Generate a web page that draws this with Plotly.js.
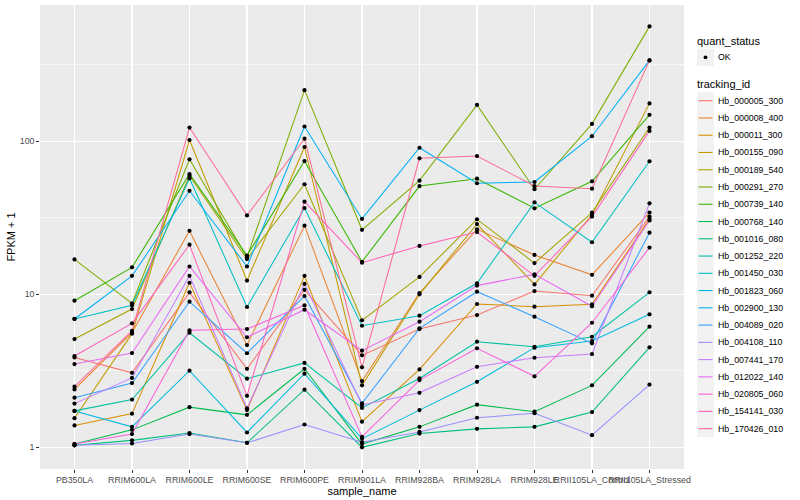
<!DOCTYPE html>
<html><head><meta charset="utf-8">
<script src="https://cdn.plot.ly/plotly-3.0.1.min.js"></script>
<style>html,body{margin:0;padding:0;background:#fff}#chart{width:800px;height:500px}</style>
</head><body><div id="chart"></div>
<script>
// ---- data (FPKM + 1) ----
const samples = ["PB350LA","RRIM600LA","RRIM600LE","RRIM600SE","RRIM600PE","RRIM901LA","RRIM928BA","RRIM928LA","RRIM928LE","RRII105LA_Control","RRII105LA_Stressed"];
const trackingIds = ["Hb_000005_300","Hb_000008_400","Hb_000011_300","Hb_000155_090","Hb_000189_540","Hb_000291_270","Hb_000739_140","Hb_000768_140","Hb_001016_080","Hb_001252_220","Hb_001450_030","Hb_001823_060","Hb_002900_130","Hb_004089_020","Hb_004108_110","Hb_007441_170","Hb_012022_140","Hb_020805_060","Hb_154141_030","Hb_170426_010"];
const trackColors = ["#F8766D","#EA8331","#D89000","#C09B00","#A3A500","#7CAE00","#39B600","#00BB4E","#00BF7D","#00C1A3","#00BFC4","#00BAE0","#00B0F6","#35A2FF","#9590FF","#C77CFF","#E76BF3","#FA62DB","#FF62BC","#FF6C91"];
const quantStatus = ["OK"];

const hb_000005_300 = [3.87, 3.07, 10.3, 3.26, 10.7, 3.99, 5.93, 7.32, 10.5, 9.79, 32.2];
const hb_000008_400 = [2.39, 5.61, 26.0, 4.66, 28.1, 2.71, 10.2, 26.6, 18.1, 13.4, 34.2];
const hb_000011_300 = [1.39, 1.66, 11.9, 1.75, 13.2, 1.47, 3.23, 8.64, 8.30, 8.60, 31.1];
const hb_000155_090 = [1.55, 5.53, 102, 12.3, 91.8, 2.54, 10.0, 28.8, 11.6, 33.1, 177];
const hb_000189_540 = [5.10, 8.01, 59.6, 17.0, 52.4, 6.76, 13.0, 30.9, 16.0, 34.2, 123];
const hb_000291_270 = [16.9, 8.73, 76.3, 17.5, 216, 26.4, 55.3, 173, 48.6, 130, 564];
const hb_000739_140 = [9.08, 15.0, 61.1, 17.9, 74.3, 16.3, 51.0, 57.0, 36.5, 54.8, 149];
const hb_000768_140 = [1.05, 1.30, 1.83, 1.63, 3.26, 1.05, 1.36, 1.90, 1.71, 2.54, 6.14];
const hb_001016_080 = [1.03, 1.11, 1.24, 1.07, 2.38, 1.00, 1.23, 1.32, 1.36, 1.70, 4.50];
const hb_001252_220 = [1.73, 2.05, 5.61, 2.81, 3.56, 1.81, 2.82, 4.90, 4.54, 5.28, 10.3];
const hb_001450_030 = [6.90, 8.48, 57.3, 8.26, 36.6, 6.23, 7.25, 11.8, 39.9, 21.9, 74.0];
const hb_001823_060 = [1.73, 1.36, 3.17, 1.25, 3.03, 1.14, 1.75, 2.68, 4.48, 4.95, 7.40];
const hb_002900_130 = [6.90, 13.2, 47.5, 15.2, 125, 31.1, 90.8, 53.2, 54.2, 108, 338];
const hb_004089_020 = [2.11, 2.63, 8.95, 4.12, 9.75, 1.94, 5.99, 10.4, 7.14, 4.78, 25.3];
const hb_004108_110 = [1.03, 1.06, 1.22, 1.07, 1.41, 1.08, 1.26, 1.56, 1.67, 1.20, 2.57];
const hb_007441_170 = [1.93, 2.84, 13.2, 1.80, 11.7, 1.89, 2.27, 3.36, 3.85, 4.07, 39.3];
const hb_012022_140 = [3.50, 4.13, 15.2, 5.24, 7.93, 4.28, 6.62, 11.4, 13.5, 8.35, 30.4];
const hb_020805_060 = [1.05, 1.22, 5.82, 5.93, 8.48, 1.17, 2.75, 4.44, 2.91, 6.52, 20.2];
const hb_154141_030 = [3.95, 6.46, 21.1, 2.17, 40.3, 16.1, 20.7, 25.5, 13.2, 32.2, 117];
const hb_170426_010 = [2.49, 5.76, 123, 32.8, 104, 3.33, 77.4, 80.1, 51.0, 49.0, 338];

const yTickVals = [1, 10, 100];
const yTickText = ["1", "10", "100"];
const yMinorVals = [3.1623, 31.623, 316.23];

const seriesValues = [hb_000005_300, hb_000008_400, hb_000011_300, hb_000155_090, hb_000189_540, hb_000291_270, hb_000739_140, hb_000768_140, hb_001016_080, hb_001252_220, hb_001450_030, hb_001823_060, hb_002900_130, hb_004089_020, hb_004108_110, hb_007441_170, hb_012022_140, hb_020805_060, hb_154141_030, hb_170426_010];

// ---- traces ----
const FONT = "Liberation Sans, Arial, Helvetica, sans-serif";
const traces = seriesValues.map((vals, i) => ({
  type: "scatter", mode: "lines", x: samples, y: vals, name: trackingIds[i],
  line: {color: trackColors[i], width: 1.05}, showlegend: false, hoverinfo: "x+y+name"
}));
const px = [], py = [];
seriesValues.forEach(vals => { vals.forEach((v, j) => { px.push(samples[j]); py.push(v); }); });
traces.push({type: "scatter", mode: "markers", x: px, y: py, name: quantStatus[0],
  marker: {color: "#000", size: 4.2}, showlegend: false, hoverinfo: "x+y"});

// ---- manual ggplot-style legend (positions in page pixels) ----
const L = 40, T = 5, W = 644, H = 464;
const toPX = p => (p - L) / W, toPY = p => (T + H - p) / H;
const shapes = [], annotations = [];
function keyBox(cy) {
  shapes.push({type: "rect", xref: "paper", yref: "paper", x0: toPX(697), x1: toPX(714),
    y0: toPY(cy - 8.6), y1: toPY(cy + 8.6), fillcolor: "#F2F2F2", line: {width: 0}, layer: "below"});
}
function label(text, x, y, size) {
  annotations.push({xref: "paper", yref: "paper", x: toPX(x), y: toPY(y), text: text, showarrow: false,
    xanchor: "left", yanchor: "middle", font: {family: FONT, size: size, color: "#000"}});
}
label("quant_status", 695, 41, 11);
keyBox(57.3);
shapes.push({type: "circle", xref: "paper", yref: "paper", x0: toPX(703.6), x1: toPX(707.4),
  y0: toPY(59.2), y1: toPY(55.4), fillcolor: "#000", line: {width: 0}});
label(quantStatus[0], 715.5, 57.3, 8.8);
label("tracking_id", 695, 84.3, 11);
trackingIds.forEach((id, i) => {
  const cy = 100.7 + i * 17.26;
  keyBox(cy);
  shapes.push({type: "line", xref: "paper", yref: "paper", x0: toPX(698.5), x1: toPX(712.5),
    y0: toPY(cy), y1: toPY(cy), line: {color: trackColors[i], width: 1.1}});
  label(id, 715.5, cy, 8.8);
});

const layout = {
  width: 800, height: 500,
  margin: {l: L, r: 800 - L - W, t: T, b: 500 - T - H, pad: 0},
  paper_bgcolor: "#fff", plot_bgcolor: "#EBEBEB",
  font: {family: FONT, size: 8.8, color: "#4D4D4D"},
  showlegend: false,
  xaxis: {type: "category", range: [-0.6, 10.6], tickangle: 0, automargin: false,
    showgrid: true, gridcolor: "#FFFFFF", gridwidth: 1.07, zeroline: false, showline: false,
    ticks: "outside", ticklen: 2.75, tickwidth: 1, tickcolor: "#333333",
    tickfont: {family: FONT, size: 8.8, color: "#4D4D4D"},
    title: {text: "sample_name", font: {family: FONT, size: 11, color: "#000"}, standoff: 0}},
  yaxis: {type: "log", range: [-0.1418, 2.891], automargin: false,
    tickmode: "array", tickvals: yTickVals, ticktext: yTickText,
    showgrid: true, gridcolor: "#FFFFFF", gridwidth: 1.07, zeroline: false, showline: false,
    ticks: "outside", ticklen: 2.75, tickwidth: 1, tickcolor: "#333333",
    tickfont: {family: FONT, size: 8.8, color: "#4D4D4D"},
    minor: {tickmode: "array", tickvals: yMinorVals, showgrid: true, gridcolor: "#FFFFFF", gridwidth: 0.53, ticks: ""},
    title: {text: "FPKM + 1", font: {family: FONT, size: 11, color: "#000"}, standoff: 1}},
  shapes: shapes, annotations: annotations
};
Plotly.newPlot("chart", traces, layout, {displayModeBar: false, staticPlot: true});
</script></body></html>
